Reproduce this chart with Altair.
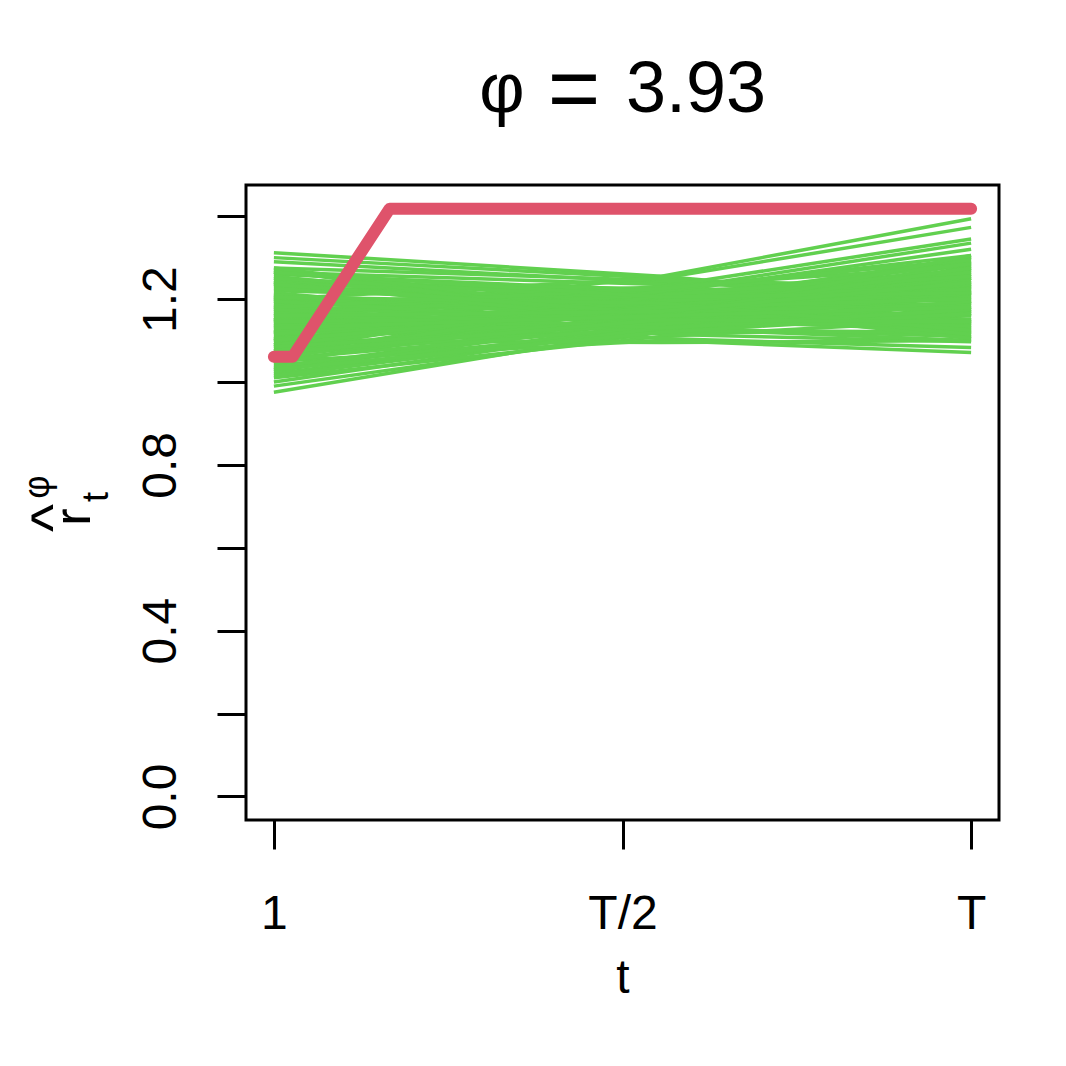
import altair as alt
import pandas as pd

# ---- data ----
# normalised time: 0 -> t=1, 0.5 -> T/2, 1 -> T
green_s = [0.0, 0.556, 1.0]
g_start = [1.312, 1.300, 1.290, 1.275, 1.265, 1.150, 1.200, 1.120, 1.180, 1.240,
           0.975, 0.990, 1.000, 1.010, 1.050, 1.150, 1.200, 1.100,
           1.030, 1.050, 1.070, 1.090, 1.110, 1.130, 1.150, 1.170, 1.190, 1.210,
           1.230, 1.250, 1.260, 1.040, 1.060, 1.080, 1.100, 1.120, 1.140, 1.160,
           1.180, 1.200, 1.220, 1.240, 1.020, 1.035, 1.065, 1.095, 1.125, 1.155,
           1.185, 1.215, 1.245, 1.255, 1.045, 1.075, 1.105, 1.135, 1.165, 1.195,
           1.025, 1.055, 1.085, 1.115, 1.145, 1.175, 1.205, 1.235, 1.265, 1.270,
           1.015, 1.045, 1.075, 1.105, 1.135, 1.165, 1.195, 1.225, 1.250, 1.275,
           1.030, 1.060, 1.090, 1.120, 1.150, 1.180, 1.210, 1.240, 1.055, 1.085,
           1.115, 1.145, 1.175, 1.205, 1.235, 1.265, 1.070, 1.100, 1.130, 1.160]
g_mid = [1.255, 1.250, 1.240, 1.245, 1.235, 1.255, 1.250, 1.230, 1.220, 1.215,
         1.130, 1.120, 1.135, 1.110, 1.100, 1.105, 1.115, 1.095,
         1.150, 1.170, 1.130, 1.200, 1.140, 1.190, 1.160, 1.210, 1.180, 1.150,
         1.200, 1.170, 1.220, 1.125, 1.185, 1.155, 1.215, 1.135, 1.175, 1.205,
         1.145, 1.165, 1.195, 1.225, 1.140, 1.160, 1.210, 1.120, 1.190, 1.150,
         1.230, 1.130, 1.180, 1.160, 1.200, 1.175, 1.145, 1.215, 1.125, 1.185,
         1.175, 1.135, 1.205, 1.165, 1.125, 1.195, 1.155, 1.215, 1.185, 1.140,
         1.130, 1.190, 1.220, 1.150, 1.170, 1.210, 1.140, 1.180, 1.200, 1.160,
         1.120, 1.165, 1.185, 1.205, 1.135, 1.225, 1.170, 1.145, 1.210, 1.140,
         1.195, 1.155, 1.130, 1.190, 1.165, 1.205, 1.150, 1.180, 1.160, 1.170]
g_end = [1.190, 1.170, 1.210, 1.230, 1.160, 1.394, 1.373, 1.345, 1.335, 1.320,
         1.220, 1.180, 1.250, 1.150, 1.071, 1.083, 1.097, 1.100,
         1.250, 1.200, 1.110, 1.290, 1.160, 1.230, 1.120, 1.270, 1.140, 1.260,
         1.180, 1.130, 1.240, 1.170, 1.300, 1.210, 1.150, 1.280, 1.190, 1.110,
         1.220, 1.260, 1.140, 1.200, 1.190, 1.130, 1.240, 1.120, 1.300, 1.170,
         1.280, 1.100, 1.250, 1.150, 1.270, 1.160, 1.230, 1.210, 1.120, 1.290,
         1.215, 1.255, 1.135, 1.285, 1.195, 1.105, 1.245, 1.165, 1.225, 1.275,
         1.235, 1.145, 1.305, 1.125, 1.265, 1.175, 1.215, 1.115, 1.285, 1.205,
         1.165, 1.225, 1.105, 1.255, 1.145, 1.295, 1.185, 1.135, 1.265, 1.195,
         1.235, 1.305, 1.175, 1.125, 1.275, 1.215, 1.145, 1.200, 1.180, 1.240]

red_s = [0.0, 0.027, 0.166, 1.0]
red_v = [1.061, 1.061, 1.418, 1.418]

x_ticks = [0.0, 0.5, 1.0]
x_tick_labels = ["1", "T/2", "T"]
y_ticks = [0.0, 0.2, 0.4, 0.6, 0.8, 1.0, 1.2, 1.4]

GREEN = "#61D04F"
RED = "#DF536B"
FONT = "Liberation Sans"

rows = []
for i, (a, b, c) in enumerate(zip(g_start, g_mid, g_end)):
    for s, v in zip(green_s, (a, b, c)):
        rows.append({"id": i, "s": s, "v": v})
green_df = pd.DataFrame(rows)
red_df = pd.DataFrame({"s": red_s, "v": red_v})

xscale = alt.Scale(domain=[-0.04, 1.04], nice=False, zero=False)
yscale = alt.Scale(domain=[-0.0567, 1.4752], nice=False, zero=False)

label_expr_x = (
    f"datum.value == 0 ? '{x_tick_labels[0]}' : "
    f"(datum.value == 0.5 ? '{x_tick_labels[1]}' : '{x_tick_labels[2]}')"
)

x_axis = alt.Axis(values=x_ticks, labelExpr=label_expr_x, title=None, grid=False,
                  domain=False, tickSize=29, tickWidth=3, tickColor="black",
                  labelFont=FONT, labelFontSize=48, labelColor="black",
                  labelBaseline="alphabetic", labelPadding=79, labelAlign="center",
                  labelFlush=False, labelOverlap=False)
y_axis = alt.Axis(values=y_ticks,
                  labelExpr="round(datum.value*10) % 4 == 0 ? format(datum.value, '.1f') : ''",
                  title=None, grid=False, domain=False, tickSize=29, tickWidth=3,
                  tickColor="black", labelFont=FONT, labelFontSize=48,
                  labelColor="black", labelAngle=270, labelAlign="center",
                  labelBaseline="alphabetic", labelPadding=42, labelFlush=False,
                  labelOverlap=False)

green = alt.Chart(green_df).mark_line(color=GREEN, strokeWidth=3.5).encode(
    x=alt.X("s:Q", scale=xscale, axis=x_axis),
    y=alt.Y("v:Q", scale=yscale, axis=y_axis),
    detail="id:N",
    order="s:Q",
)

red = alt.Chart(red_df).mark_line(color=RED, strokeWidth=12, strokeCap="round",
                                  strokeJoin="round").encode(
    x=alt.X("s:Q", scale=xscale),
    y=alt.Y("v:Q", scale=yscale),
    order="s:Q",
)

one = pd.DataFrame({"k": [0]})


def txt(text, x, y, size, angle=0):
    kw = dict(text=text, font=FONT, fontSize=size, color="black", align="center",
              baseline="alphabetic")
    if angle:
        kw["angle"] = angle
    return alt.Chart(one).mark_text(**kw).encode(x=alt.value(x), y=alt.value(y))


title_phi = txt("φ", 256, -73, 70)
title_eq = txt("=", 328, -66, 90)
title_num = txt("3.93", 450, -73, 72)
xtitle = txt("t", 377, 808, 48)
y_r = txt("r", -156, 332, 52, 270)
y_hat = txt("^", -173, 333, 60, 270)
y_phi = txt("φ", -197, 302, 36, 270)
y_t = txt("t", -138, 312, 36, 270)

chart = alt.layer(green, red, title_phi, title_eq, title_num, xtitle,
                  y_r, y_hat, y_phi, y_t).properties(
    width=753, height=635,
    autosize=alt.AutoSizeParams(type="none"),
    padding={"left": 238, "top": 177, "right": 50, "bottom": 200},
    background="white",
).configure_view(stroke="black", strokeWidth=3)

chart.save("out.html", embed_options={"renderer": "svg", "actions": False})
